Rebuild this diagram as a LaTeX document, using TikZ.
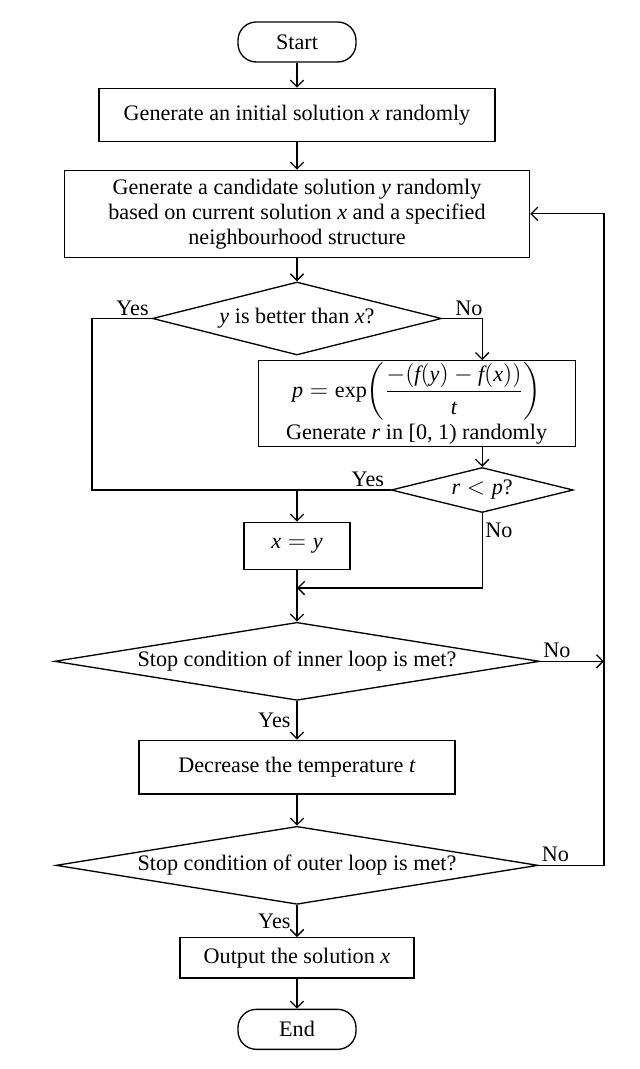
\documentclass[tikz,border=0pt]{standalone}
\usepackage{amsmath}
\usepackage{fontspec}
\setmainfont{Liberation Serif}
\usepackage{tikz}
\usetikzlibrary{arrows.meta,shapes,positioning,calc}
\tikzstyle{arrow} = [line width=0.8pt,->,>={Straight Barb[length=4pt,width=8pt]}]
\tikzstyle{flowline} = [line width=0.8pt]
\tikzstyle{terminal} = [rectangle, rounded corners=11pt, minimum width=70.8pt, minimum height=24pt, text centered, draw, line width=0.8pt]
\tikzstyle{process} = [rectangle, text centered, align=center, draw, line width=0.8pt, inner sep=0pt]
\tikzstyle{decision} = [diamond, aspect=6, inner sep=0pt, text centered, draw, line width=0.8pt]
\tikzstyle{answer} = [inner sep=1.5pt]

\begin{document}
\begin{tikzpicture}[font=\fontsize{13.3}{15}\selectfont]
    \node[terminal] (start) {Start};
    \useasboundingbox ([xshift=-178.2pt,yshift=25.2pt]start.center) rectangle ([xshift=205.2pt,yshift=-616.2pt]start.center);
    \node[process, below=15pt of start, minimum width=237.6pt, minimum height=31.8pt] (init) {Generate an initial solution \textit{x} randomly};
    \node[process, below=16.6pt of init, minimum width=279pt, minimum height=52.2pt] (cand) {Generate a candidate solution \textit{y} randomly\\based on current solution \textit{x} and a specified\\neighbourhood structure};
    \node[decision, below=14pt of cand, minimum width=173.4pt, minimum height=43.8pt] (better) {\textit{y} is better than \textit{x}?};
    \node[process, below=25pt of better.east, xshift=-15.3pt, minimum width=190.2pt, minimum height=51.2pt] (prob) {$\textit{p} = \text{exp}\biggl(\dfrac{-(\textit{f}(\textit{y}) - \textit{f}(\textit{x}))}{\textit{t}}\biggr)$\\[1pt]Generate \textit{r} in [0, 1) randomly};
    \node[decision, below=12pt of prob, xshift=39.3pt, minimum width=109.2pt, minimum height=27pt] (accept) {$\textit{r} < \textit{p}$?};
    \coordinate (yesjoin) at (better |- accept.west);
    \node[process, below=19pt of yesjoin, minimum width=63.6pt, minimum height=28.2pt] (assign) {$\textit{x} = \textit{y}$};
    \coordinate[below=10.8pt of assign.south] (merge);
    \node[decision, below=20.2pt of merge, minimum width=291pt, minimum height=46.8pt] (inner) {Stop condition of inner loop is met?};
    \node[process, below=23.2pt of inner, minimum width=189.6pt, minimum height=32.2pt] (cool) {Decrease the temperature \textit{t}};
    \node[decision, below=18.6pt of cool, minimum width=289.2pt, minimum height=46.8pt] (outer) {Stop condition of outer loop is met?};
    \node[process, below=19.2pt of outer, minimum width=140.4pt, minimum height=24.2pt] (output) {Output the solution \textit{x}};
    \node[terminal, below=18pt of output] (end) {End};

    % side columns of the loops
    \coordinate (loopx) at ([xshift=184.2pt]start.center);
    \coordinate (yesx) at ([xshift=-123pt]start.center);

    \draw[arrow] (start) -- (init);
    \draw[arrow] (init) -- (cand);
    \draw[arrow] (cand) -- (better);
    \draw[flowline] (better.west) node[answer, above left] {Yes} -- (yesx |- better.west) -- (yesx |- accept.west) -- (accept.west) node[answer, above left, xshift=-2pt] {Yes};
    \draw[arrow] (better.east) node[answer, above right, xshift=6pt] {No} -| (prob.north -| accept);
    \draw[arrow] (prob.south -| accept) -- (accept);
    \draw[arrow] (yesjoin) -- (assign);
    \draw[flowline] (assign) -- (merge);
    \draw[arrow] (accept.south) node[answer, below right, yshift=-4pt] {No} |- (merge);
    \draw[arrow] (merge) -- (inner);
    \draw[arrow] (inner.east) node[answer, above right] {No} -- (loopx |- inner.east);
    \draw[arrow] (inner) -- node[answer, left=2pt] {Yes} (cool);
    \draw[arrow] (cool) -- (outer);
    \draw[arrow] (outer.east) node[answer, above right] {No} -- (loopx |- outer.east) -- (loopx |- cand.east) -- (cand.east);
    \draw[arrow] (outer) -- node[answer, left=2pt] {Yes} (output);
    \draw[arrow] (output) -- (end);
\end{tikzpicture}
\end{document}
